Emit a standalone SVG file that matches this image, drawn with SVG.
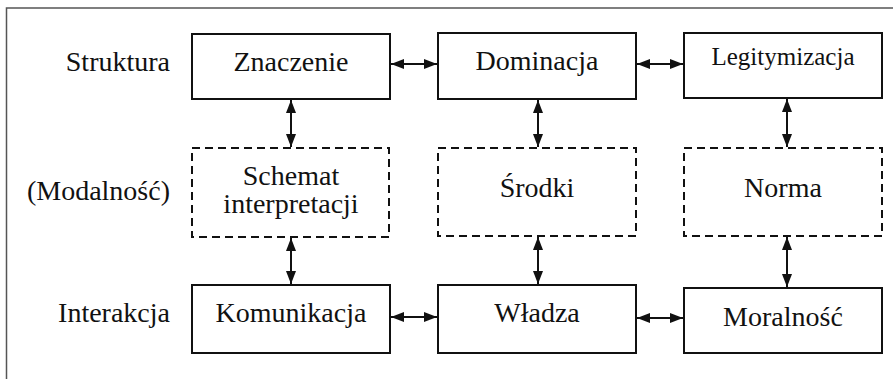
<svg xmlns="http://www.w3.org/2000/svg" width="893" height="379" viewBox="0 0 893 379">
<style>
text{font-size:28px;fill:#111;text-anchor:middle}
.lbl{text-anchor:end}
.box{fill:#fff;stroke:#111;stroke-width:2}
.dash{fill:#fff;stroke:#111;stroke-width:2;stroke-dasharray:8 5}
.con{stroke:#111;stroke-width:2;fill:none;marker-start:url(#ah);marker-end:url(#ah)}
</style>
<defs>
<marker id="ah" viewBox="0 0 13 11" refX="13" refY="5.5" markerWidth="13" markerHeight="11" markerUnits="userSpaceOnUse" orient="auto-start-reverse">
<path d="M0,0.5 L13,5.5 L0,10.5 Z" fill="#111"/>
</marker>
</defs>
<rect width="893" height="379" fill="#fff"/>
<path d="M6.5,379 V8 H893" fill="none" stroke="#555" stroke-width="1.5"/>
<g font-family="'Liberation Serif', 'Times New Roman', serif">
<g id="labels">
<text class="lbl" x="170" y="71">Struktura</text>
<text class="lbl" x="170" y="200">(Modalność)</text>
<text class="lbl" x="170" y="322">Interakcja</text>
</g>
<g id="znaczenie"><rect class="box" x="192" y="34" width="198" height="65"/><text x="291" y="71">Znaczenie</text></g>
<g id="dominacja"><rect class="box" x="438" y="33" width="198" height="66"/><text x="537" y="70">Dominacja</text></g>
<g id="legitymizacja"><rect class="box" x="684" y="33" width="198" height="65"/><text x="783" y="65" style="font-size:25px">Legitymizacja</text></g>
<g id="schemat"><rect class="dash" x="192" y="148" width="197" height="89"/><text x="291" y="185">Schemat</text><text x="291" y="213">interpretacji</text></g>
<g id="srodki"><rect class="dash" x="438" y="148" width="198" height="88"/><text x="537" y="197">Środki</text></g>
<g id="norma"><rect class="dash" x="684" y="148" width="198" height="88"/><text x="783" y="197">Norma</text></g>
<g id="komunikacja"><rect class="box" x="192" y="285" width="198" height="68"/><text x="291" y="322">Komunikacja</text></g>
<g id="wladza"><rect class="box" x="438" y="285" width="198" height="68"/><text x="537" y="322">Władza</text></g>
<g id="moralnosc"><rect class="box" x="684" y="288" width="198" height="65"/><text x="783" y="326">Moralność</text></g>
</g>
<g id="connectors">
<line class="con" x1="391" y1="64" x2="437" y2="64"/>
<line class="con" x1="637" y1="64" x2="683" y2="64"/>
<line class="con" x1="391" y1="317" x2="437" y2="317"/>
<line class="con" x1="637" y1="318" x2="683" y2="318"/>
<line class="con" x1="291" y1="100" x2="291" y2="147"/>
<line class="con" x1="538" y1="100" x2="538" y2="147"/>
<line class="con" x1="787" y1="99" x2="787" y2="147"/>
<line class="con" x1="291" y1="238" x2="291" y2="284"/>
<line class="con" x1="538" y1="237" x2="538" y2="284"/>
<line class="con" x1="787" y1="237" x2="787" y2="287"/>
</g>
</svg>
